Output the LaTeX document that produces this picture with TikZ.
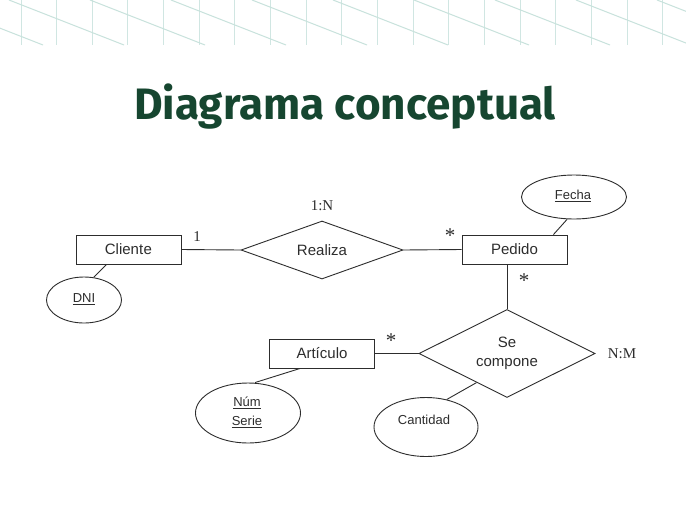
\documentclass[tikz,border=0pt]{standalone}
\usepackage{fontspec}
\setmainfont{Liberation Sans}
\newfontfamily\arialF{Liberation Sans}
\newfontfamily\serifF{Liberation Serif}
\newfontfamily\titleF{Fira Sans}
\usetikzlibrary{shapes.geometric,calc}
\definecolor{titlegreen}{RGB}{22,70,48}
\definecolor{patv}{RGB}{208,230,226}
\definecolor{patd}{RGB}{200,226,220}
\definecolor{ink}{RGB}{45,45,45}
\tikzset{
  entity/.style={draw=ink, line width=0.9pt, rectangle, minimum width=105pt, minimum height=29pt, inner sep=0pt, font=\arialF\fontsize{15}{17}\selectfont, text=ink},
  rel/.style={draw=ink, line width=0.9pt, diamond, inner sep=0pt, aspect=2, font=\arialF\fontsize{15}{19}\selectfont, text=ink, align=center},
  attr/.style={draw=ink, line width=0.9pt, ellipse, inner sep=0pt},
  attrtext/.style={inner sep=0pt, font=\arialF\fontsize{13}{19}\selectfont, text=ink, align=center},
  card/.style={inner sep=0pt, font=\serifF\fontsize{15}{17}\selectfont, text=ink},
  star/.style={inner sep=0pt, font=\serifF\fontsize{21}{21}\selectfont, text=ink},
  conn/.style={draw=ink, line width=0.9pt},
}
\begin{document}
\begin{tikzpicture}[x=1pt,y=-1pt]
\useasboundingbox[fill=white] (0,0) rectangle (686,515);
% background pattern
\begin{scope}
\clip (0,0) rectangle (686,45);
\foreach \k in {0,...,18} {
  \draw[patv, line width=1pt] ({21+35.65*\k},0) -- ({21+35.65*\k},45);
}
\foreach \k in {-2,...,8} {
  \draw[patd, line width=1pt] ({9+81*\k},0) -- ({9+81*\k+115},45);
}
\end{scope}
% title
\node[inner sep=0pt, text=titlegreen, font=\titleF\bfseries\fontsize{44}{50}\selectfont] (title) at (345,107) {Diagrama conceptual};
% entities
\node[entity] (Cliente) at (128.5,249.5) {Client\kern0.5pt e};
\node[entity] (Pedido) at (514.5,249.5) {Pedido};
\node[entity] (Articulo) at (322,353.5) {Artículo};
% relationships
\node[rel, minimum width=162pt, minimum height=58pt] (Realiza) at (322,250) {Realiza};
\node[rel, minimum width=176pt, minimum height=88pt] (SeC) at (507,353.5) {Se\\compone};
% attributes
\node[attr, minimum width=75pt, minimum height=46pt] (DNI) at (84,300) {};
\node[attrtext] (DNIt) at (84,299) {\underline{DNI}};
\node[attr, minimum width=105pt, minimum height=44pt] (Fecha) at (574,197) {};
\node[attrtext] (Fechat) at (573,196) {\underline{Fecha}};
\node[attr, minimum width=105pt, minimum height=60pt] (Num) at (248,413) {};
\node[attrtext] (Numt) at (247,412.5) {\underline{Núm}\\\underline{Serie}};
\node[attr, minimum width=104pt, minimum height=59pt] (Cant) at (426,427) {};
\node[attrtext] (Cantt) at (424,420) {Cantidad};
% cardinalities
\node[card] (c1) at (197,237) {1};
\node[card] (c1N) at (322,206) {1:N};
\node[star] (s1) at (450,236) {*};
\node[star] (s2) at (524,281) {*};
\node[star] (s3) at (391,341) {*};
\node[card] (cNM) at (622,354) {N:M};
% connectors
\draw[conn] (Cliente.east) -- (Realiza.west);
\draw[conn] (Realiza.east) -- (Pedido.west);
\draw[conn] (Pedido.south -| SeC.north) -- (SeC.north);
\draw[conn] (Articulo.east) -- (SeC.west);
\draw[conn] ($(Cliente.south west)+(31,0)$) -- (DNI.67);
\draw[conn] ($(Pedido.north east)+(-14,0)$) -- ($(Fecha.south)+(-7,0)$);
\draw[conn] ($(Articulo.south west)+(31,0)$) -- ($(Num.north)+(7,0)$);
\draw[conn] ($(SeC.west)!0.655!(SeC.south)$) -- (Cant.53);
\end{tikzpicture}
\end{document}
